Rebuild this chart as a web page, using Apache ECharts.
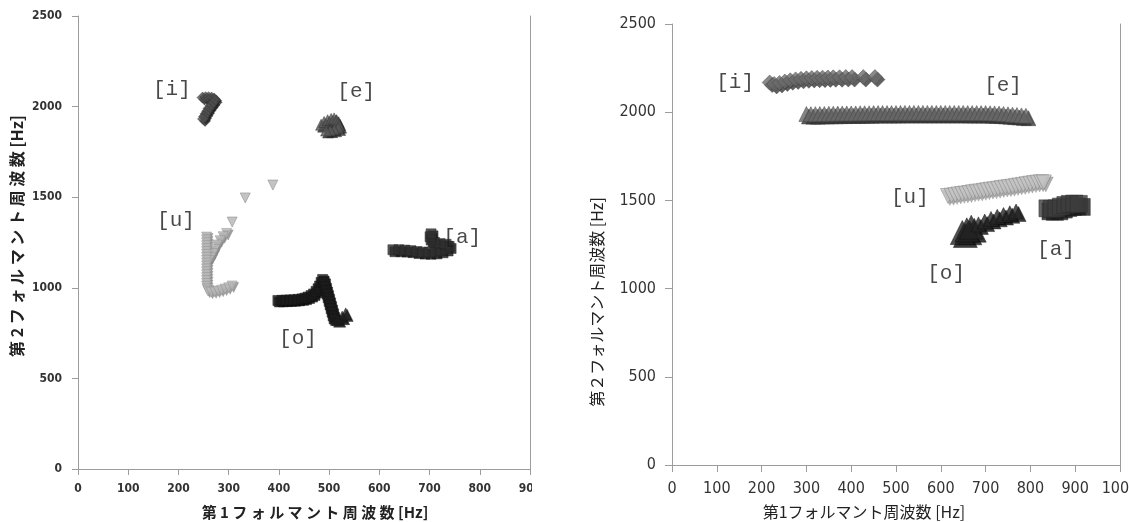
<!DOCTYPE html>
<html>
<head>
<meta charset="utf-8">
<script src="https://cdn.jsdelivr.net/npm/echarts@6/dist/echarts.min.js"></script>
<style>
  html, body { margin: 0; padding: 0; background: #fff; }
  #wrap { position: relative; width: 1129px; height: 522px; overflow: hidden; }
  #left { position: absolute; left: 0; top: 0; width: 532px; height: 522px; }
  #right { position: absolute; left: 532px; top: 0; width: 597px; height: 522px; }
</style>
</head>
<body>
<div id="wrap"><div id="left"></div><div id="right"></div></div>
<script>
// Vowel formant trajectories: [F1, F2] in Hz

// ---- left panel ----
const iLeft = [[248,2050],[254,2052],[260,2052],[266,2050],[271,2045],[272,2035],[268,2020],[264,2005],[260,1990],[257,1975],[254,1960],[251,1945],[249,1932]];
const eLeft = [[484,1900],[490,1915],[497,1925],[504,1932],[510,1935],[515,1925],[518,1910],[520,1895],[518,1882],[510,1875],[502,1870],[494,1868]];
const uLeft = [[296,1300],[289,1282],[283,1260],[277,1236],[273,1212],[269,1188],[265,1166],[261,1150],
  [256,1280],[256,1264],[256,1248],[256,1232],[256,1216],[256,1200],[256,1184],[256,1168],[256,1152],[256,1136],
  [256,1120],[256,1104],[256,1088],[256,1072],[256,1056],[256,1040],[256,1024],[256,1008],[257,994],[259,982],
  [265,976],[272,978],[279,982],[286,987],[293,993],[300,1000],[307,1010]];
const uLeftStray = [[307,1363],[333,1496],[388,1567]];
const oLeft = [[398,930],[406,931],[414,932],[422,933],[430,934],[438,936],[446,939],[452,943],[458,949],[464,957],
  [469,966],[474,980],[478,995],[481,1010],[484,1030],[487,1046],[490,1030],[492,1005],[494,985],[496,965],
  [498,945],[500,925],[502,905],[504,885],[506,865],[508,845],[510,828]];
const oLeftTip = [[518,824],[526,838],[533,856]];
const aLeft = [[627,1210],[639,1210],[651,1208],[663,1205],[675,1200],[687,1197],[699,1196],[711,1198],[723,1204],[733,1214],[739,1228],[733,1240],[721,1244],[710,1250],[703,1264],[701,1282],[703,1298]];

// ---- right panel ----
const iRight = [[218,2168],[228,2160],[240,2166],[252,2174],[264,2181],[276,2186],[288,2189],[300,2192],[312,2194],[324,2195],[336,2196],[348,2197],[360,2198],[374,2198],[388,2199],[402,2199],[427,2199],[453,2199]];
const eRight = [[300,1990],[310,1989],[320,1989],[330,1990],[340,1990],[350,1991],[360,1991],[370,1992],[380,1992],[390,1993],
  [400,1993],[410,1993],[420,1994],[430,1994],[440,1994],[450,1995],[460,1995],[470,1995],[480,1995],[490,1995],
  [500,1995],[510,1996],[520,1996],[530,1996],[540,1996],[550,1996],[560,1996],[570,1996],[580,1996],[590,1996],
  [600,1996],[610,1996],[620,1996],[630,1996],[640,1996],[650,1996],[660,1995],[670,1995],[680,1995],[690,1995],
  [700,1995],[710,1994],[720,1993],[730,1992],[740,1990],[750,1988],[760,1986],[770,1984],[780,1982],[790,1980]];
const uRight = [[616,1525],[624,1527],[632,1530],[640,1534],[648,1537],[656,1539],[664,1542],[672,1546],[680,1549],[688,1551],
  [696,1554],[704,1558],[712,1561],[720,1563],[728,1566],[736,1570],[744,1573],[752,1575],[760,1578],[768,1582],
  [776,1585],[784,1588],[792,1592],[800,1595],[808,1598],[816,1601],[824,1603],[830,1602]];
const oRightHead = [[648,1318],[658,1333],[668,1348]];
const oRightTail = [[684,1364],[698,1380],[712,1395],[726,1407],[740,1417],[754,1427],[768,1437]];
const aRight = [[838,1455],[848,1452],[858,1455],[868,1465],[878,1474],[888,1480],[898,1482],[908,1480]];

// vowel labels and their anchor points (Hz)
const vowelNames = ['[i]', '[e]', '[u]', '[o]', '[a]'];
const labelAtLeft = [[187,2097],[554,2081],[195,1374],[438,723],[765,1280]];
const labelAtRight = [[141,2171],[739,2149],[531,1519],[612,1088],[857,1224]];

const numFont = '"Liberation Sans Narrow","DejaVu Sans Condensed","Liberation Sans",sans-serif';
const jpFont = '"Noto Sans CJK JP","Noto Sans",sans-serif';
const axisGray = '#9c9c9c';

// A trail of extruded markers: a dark offset layer under a lit face layer.
function prism(data, o) {
  const base = { type: 'scatter', data: data, symbol: o.symbol, symbolSize: o.size,
                 symbolRotate: o.rotate || 0, silent: true };
  return [
    Object.assign({}, base, { symbolOffset: [o.depth, o.depth], z: 2,
      itemStyle: { color: o.side, borderColor: o.side, borderWidth: 0.5 } }),
    Object.assign({}, base, { z: 3,
      itemStyle: { color: o.face, borderColor: o.edge, borderWidth: o.edgeWidth || 0.6 } })
  ];
}

function labelSeries(points, fontSize) {
  return {
    type: 'scatter', symbolSize: 1, z: 5, silent: true,
    itemStyle: { color: 'rgba(0,0,0,0)' },
    label: { show: true, position: 'inside', formatter: '{b}',
             fontFamily: '"Liberation Mono","DejaVu Sans Mono",monospace',
             fontSize: fontSize, color: '#1a1a1a' },
    data: vowelNames.map((n, k) => ({ name: n, value: points[k] }))
  };
}

const plain = v => String(v);

function frameAxes(o) {
  return {
    xAxis: { type: 'value', min: 0, max: o.xmax, interval: 100,
      axisLine: { onZero: false, lineStyle: { color: axisGray } },
      axisTick: { length: o.tick, lineStyle: { color: axisGray } },
      axisLabel: { margin: o.xMargin, fontSize: o.fs, fontWeight: o.fw, color: '#333', fontFamily: numFont, formatter: plain },
      splitLine: { show: false } },
    yAxis: [
      { type: 'value', min: 0, max: 2500, interval: 500,
        axisLine: { show: true, onZero: false, lineStyle: { color: axisGray } },
        axisTick: { show: true, length: o.tick, lineStyle: { color: axisGray } },
        axisLabel: { margin: o.yMargin, fontSize: o.fs, fontWeight: o.fw, color: '#333', fontFamily: numFont, formatter: plain },
        splitLine: { show: false } },
      { type: 'value', min: 0, max: 2500, interval: 500, position: 'right',
        axisLine: { show: true, onZero: false, lineStyle: { color: axisGray } },
        axisTick: { show: false }, axisLabel: { show: false }, splitLine: { show: false } }
    ]
  };
}

function title(text, x, y, font, rotated) {
  return { type: 'text', x: x, y: y, rotation: rotated ? Math.PI / 2 : 0, silent: true,
    style: { text: text, font: font, fill: '#222', align: 'center', verticalAlign: 'middle',
             textAlign: 'center', textVerticalAlign: 'middle' } };
}

// ---- left chart ----
const leftChart = echarts.init(document.getElementById('left'), null, { renderer: 'canvas' });
const leftOpt = Object.assign({
  animation: false,
  grid: { left: 78, right: 2, top: 16, bottom: 53, containLabel: false, outerBoundsMode: 'none' },
  graphic: [
    title('第 1 フ ォ ル マ ン ト 周 波 数 [Hz]', 315, 512, 'bold 15px ' + jpFont, false),
    title('第 2 フ ォ ル マ ン ト 周 波 数 [Hz]', 17, 236, 'bold 16px ' + jpFont, true)
  ],
  series: [].concat(
    prism(iLeft, { symbol: 'diamond', size: 11, depth: 2, face: '#4d4d4d', side: '#232323', edge: '#333' }),
    prism(eLeft, { symbol: 'triangle', size: 11, depth: 2, face: '#575757', side: '#262626', edge: '#333' }),
    prism(uLeft, { symbol: 'triangle', rotate: 180, size: 10, depth: 1.5, face: '#b9b9b9', side: '#8a8a8a', edge: '#8e8e8e' }),
    [{ type: 'scatter', data: uLeftStray, symbol: 'triangle', symbolRotate: 180, symbolSize: 10, z: 3, silent: true,
       itemStyle: { color: '#b4b4b4', borderColor: '#8c8c8c', borderWidth: 0.7 } }],
    prism(oLeft, { symbol: 'rect', size: 10, depth: 1.5, face: '#1c1c1c', side: '#0a0a0a', edge: '#141414' }),
    prism(oLeftTip, { symbol: 'triangle', size: 12, depth: 1.5, face: '#1e1e1e', side: '#0c0c0c', edge: '#151515' }),
    prism(aLeft, { symbol: 'rect', size: 10, depth: 2, face: '#2f2f2f', side: '#161616', edge: '#222' }),
    [labelSeries(labelAtLeft, 21)]
  )
}, frameAxes({ xmax: 900, tick: 6, xMargin: 14, yMargin: 16, fs: 12, fw: 'bold' }));
leftChart.setOption(leftOpt);

// ---- right chart ----
const rightChart = echarts.init(document.getElementById('right'), null, { renderer: 'canvas' });
const rightOpt = Object.assign({
  animation: false,
  grid: { left: 140, right: 9, top: 24, bottom: 57, containLabel: false, outerBoundsMode: 'none' },
  graphic: [
    title('第1フォルマント周波数 [Hz]', 332, 512, '16px ' + jpFont, false),
    title('第２フォルマント周波数 [Hz]', 65, 302, '16px ' + jpFont, true)
  ],
  series: [].concat(
    prism(iRight, { symbol: 'diamond', size: 15, depth: 2.5, face: '#6c6c6c', side: '#383838', edge: '#4a4a4a' }),
    prism(eRight, { symbol: 'triangle', size: 15, depth: 2.5, face: '#676767', side: '#363636', edge: '#444' }),
    prism(uRight, { symbol: 'triangle', rotate: 180, size: 15, depth: 2, face: '#c4c4c4', side: '#9a9a9a', edge: '#7c7c7c' }),
    prism(oRightHead, { symbol: 'triangle', size: 24, depth: 3, face: '#232323', side: '#0b0b0b', edge: '#111' }),
    prism(oRightTail, { symbol: 'triangle', size: 15, depth: 2.5, face: '#262626', side: '#0b0b0b', edge: '#111' }),
    prism(aRight, { symbol: 'rect', size: 17, depth: 3, face: '#3d3d3d', side: '#1c1c1c', edge: '#2a2a2a' }),
    [labelSeries(labelAtRight, 21)]
  )
}, frameAxes({ xmax: 1000, tick: 7, xMargin: 16, yMargin: 16, fs: 16, fw: 'normal' }));
rightChart.setOption(rightOpt);
</script>
</body>
</html>
